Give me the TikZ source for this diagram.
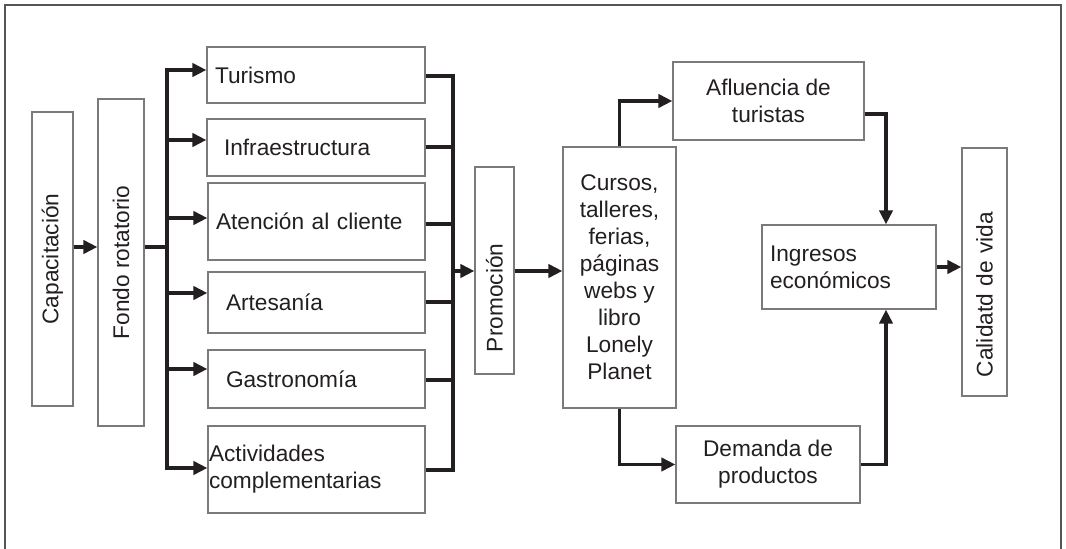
\documentclass[tikz,border=0pt]{standalone}
\usepackage{fontspec}
\setmainfont{Liberation Sans}
\usetikzlibrary{arrows.meta}
\definecolor{boxgray}{HTML}{7A7A7A}
\definecolor{txt}{HTML}{231F20}
\definecolor{framegray}{HTML}{555555}
\begin{document}
\begin{tikzpicture}[x=0.75pt,y=-0.75pt,
  every node/.style={font=\fontsize{17}{20.25}\selectfont,text=txt},
  bx/.style={draw=boxgray,line width=1pt,inner sep=0pt},
  ln/.style={line width=2.4pt,draw=txt},
  arr/.style={ln,-{Triangle[length=10.5pt,width=10pt]}},
  darr/.style={ln,{Triangle[length=10.5pt,width=10pt]}-{Triangle[length=10.5pt,width=10pt]}}]
\useasboundingbox (0,0) rectangle (1066,549);
\draw[framegray,line width=0.9pt] (5,552) -- (5,5) -- (1061,5) -- (1061,552);

% left column
\node[bx,rotate=90,minimum width=220.5pt,minimum height=30.75pt] (cap) at (52.5,259) {Capacitación};
\node[bx,rotate=90,minimum width=245.25pt,minimum height=34.5pt] (fon) at (121,262.5) {Fondo rotatorio};

% middle list
\node[bx,minimum width=163.5pt,minimum height=42pt,text width=151.5pt,inner xsep=6pt,align=left] (tur) at (316,75) {Turismo};
\node[bx,minimum width=163.5pt,minimum height=42.75pt,text width=138pt,inner xsep=12.75pt,align=left] (inf) at (316,147.5) {Infraestructura};
\node[bx,minimum width=162.75pt,minimum height=57.75pt,text width=150.75pt,inner xsep=6pt,align=left] (ate) at (316.5,221.5) {Atención al cliente};
\node[bx,minimum width=162.75pt,minimum height=45.75pt,text width=135.75pt,inner xsep=13.5pt,align=left] (art) at (316.5,302.5) {Artesanía};
\node[bx,minimum width=162.75pt,minimum height=43.5pt,text width=135.75pt,inner xsep=13.5pt,align=left] (gas) at (316.5,379) {Gastronomía};
\node[bx,minimum width=162.75pt,minimum height=65.25pt,text width=161.25pt,inner xsep=0.75pt,align=left] (act) at (316.5,469.5) {Actividades\\complementarias};

\node[bx,rotate=90,minimum width=155.25pt,minimum height=29.25pt,text width=122.25pt,inner xsep=16.5pt,align=left] (pro) at (494.5,270.5) {Promoción};
\node[bx,minimum width=84.75pt,minimum height=195.75pt,align=center] (cur) at (619.5,277.5) {Cursos,\\talleres,\\ferias,\\páginas\\webs y\\libro\\Lonely\\Planet};

% right part
\node[bx,minimum width=143.25pt,minimum height=58.5pt,align=center] (afl) at (768.5,101) {Afluencia de\\turistas};
\node[bx,minimum width=130.5pt,minimum height=63pt,text width=118.5pt,inner xsep=6pt,align=left] (ing) at (849,267) {Ingresos\\económicos};
\node[bx,minimum width=138pt,minimum height=57.75pt,align=center] (dem) at (768,464.5) {Demanda de\\productos};
\node[bx,rotate=90,minimum width=186pt,minimum height=33.75pt,text width=157.5pt,inner xsep=14.25pt,align=left] (cal) at (984.5,272) {Calidatd de vida};

% coordinates for buses
\coordinate (fy) at (0,247);
\coordinate (b1) at (167,70);
\coordinate (b2) at (167,140);
\coordinate (b3) at (167,218);
\coordinate (b4) at (167,293);
\coordinate (b5) at (167,369);
\coordinate (b6) at (167,468);
\coordinate (r1) at (453,76);
\coordinate (r2) at (453,147);
\coordinate (r3) at (453,224);
\coordinate (r4) at (453,302);
\coordinate (r5) at (453,380);
\coordinate (r6) at (453,470);
\coordinate (rp) at (453,271);
\coordinate (ax) at (886,114);

% connectors
\draw[arr] (cap.south |- fy) -- (fon.north |- fy);
\draw[ln] (fon.south |- fy) -- (b1 |- fy);
\draw[darr] (act.west |- b6) -- (b6) -- (b1) -- (tur.west |- b1);
\draw[arr] (b2) -- (inf.west |- b2);
\draw[arr] (b3) -- (ate.west |- b3);
\draw[arr] (b4) -- (art.west |- b4);
\draw[arr] (b5) -- (gas.west |- b5);

\draw[ln] (tur.east |- r1) -- (r1) -- (r6) -- (act.east |- r6);
\draw[ln] (inf.east |- r2) -- (r2);
\draw[ln] (ate.east |- r3) -- (r3);
\draw[ln] (art.east |- r4) -- (r4);
\draw[ln] (gas.east |- r5) -- (r5);
\draw[arr] (rp) -- (pro.north |- rp);

\draw[arr] (pro.south |- rp) -- (cur.west |- rp);
\draw[arr] (cur.north) |- (afl.west);
\draw[arr] (cur.south) |- (dem.west);
\draw[arr] (afl.east |- ax) -| (ax |- ing.north);
\draw[arr] (dem.east) -| (ax |- ing.south);
\draw[arr] (ing.east) -- (cal.north |- ing.east);
\end{tikzpicture}
\end{document}
